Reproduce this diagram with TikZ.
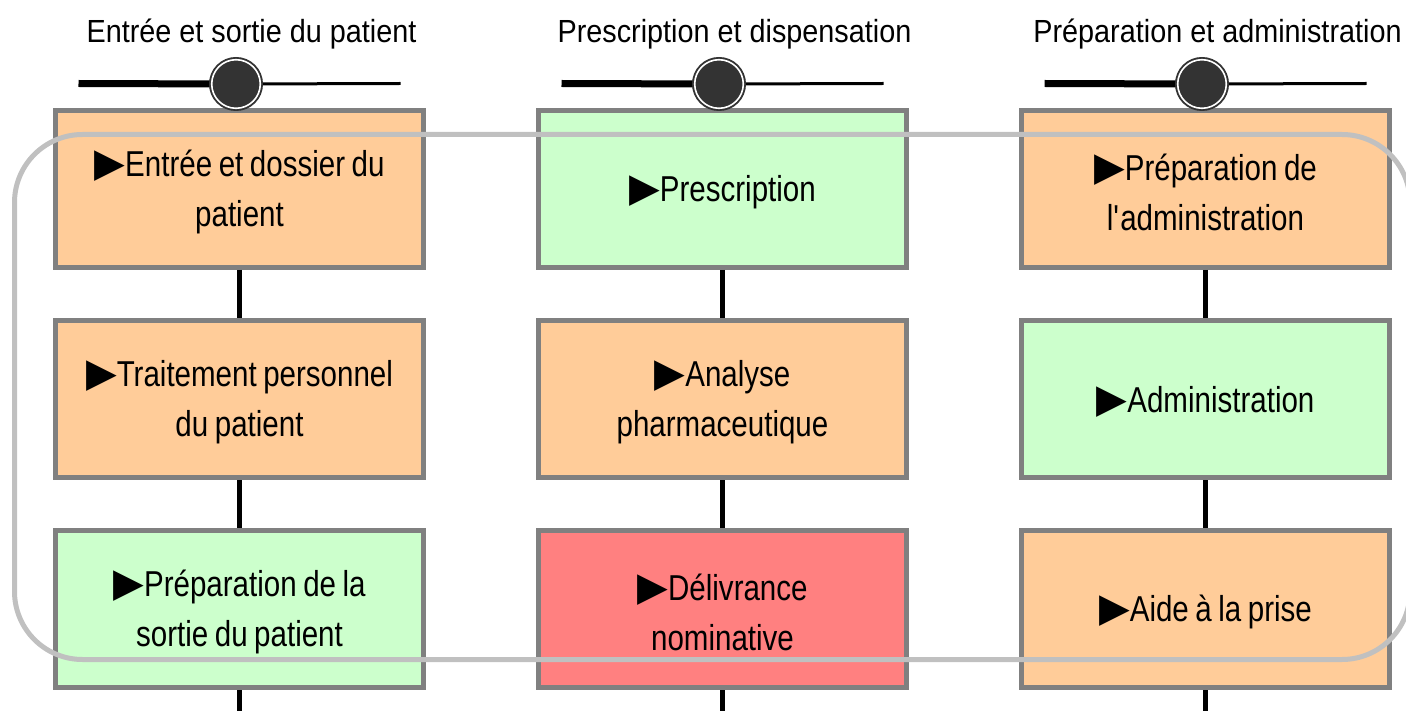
\documentclass[tikz,border=0pt]{standalone}
\usepackage{fontspec}
\setmainfont[FakeStretch=0.82,WordSpace=0.8]{Liberation Sans}
\newfontfamily\titlefont[FakeStretch=0.9]{Liberation Sans}
\newfontfamily\symfont{DejaVu Sans}
\newcommand\steptri{{\symfont\fontsize{40}{50}\selectfont ▶}}
\definecolor{stepborder}{HTML}{808080}
\definecolor{orangefill}{HTML}{FFCC99}
\definecolor{greenfill}{HTML}{CCFFCC}
\definecolor{redfill}{HTML}{FF8080}
\definecolor{groupline}{HTML}{C0C0C0}
\definecolor{knobfill}{HTML}{333333}
% a step box: style, name, position, caption
\newcommand\stepnode[4]{%
  \node[#1, label={[steptext]center:{\steptri #4}}] (#2) at #3 {};}
\begin{document}
\begin{tikzpicture}[x=1pt,y=-1pt,
  stepbox/.style={draw=stepborder, line width=5pt, minimum width=368pt,
    minimum height=157pt, inner sep=0pt},
  steptext/.style={text width=360pt, align=flush center, inner sep=0pt,
    font=\fontsize{36}{50}\selectfont, yshift=-3pt},
  orangebox/.style={stepbox, fill=orangefill},
  greenbox/.style={stepbox, fill=greenfill},
  redbox/.style={stepbox, fill=redfill},
  link/.style={line width=5pt, black},
  phasetitle/.style={font=\titlefont\fontsize{32}{40}\selectfont, inner sep=0pt},
  trackthick/.style={line width=7pt, black},
  trackthin/.style={line width=3pt, black},
  knob/.style={circle, fill=knobfill, draw=knobfill, line width=1pt,
    minimum size=53pt, inner sep=0pt},
  knobring/.style={draw=white, line width=1.6pt},
  grouping/.style={draw=groupline, line width=5pt, rounded corners=68pt,
    minimum width=1395.5pt, minimum height=525pt, inner sep=0pt}
]
\useasboundingbox (0,0) rectangle (1406,711);

% column 1: patient admission and discharge
\stepnode{orangebox}{a1}{(239.5,189)}{Entrée et dossier du\\patient}
\stepnode{orangebox}{a2}{(239.5,399)}{Traitement personnel\\du patient}
\stepnode{greenbox}{a3}{(239.5,609)}{Préparation de la\\sortie du patient}

% column 2: prescribing and dispensing
\stepnode{greenbox}{b1}{(722.5,189)}{Prescription}
\stepnode{orangebox}{b2}{(722.5,399)}{Analyse\\pharmaceutique}
\stepnode{redbox}{b3}{(722.5,609)}{Délivrance\\nominative}

% column 3: preparation and administration
\stepnode{orangebox}{c1}{(1205.5,189)}{Préparation de\\l\textquotesingle administration}
\stepnode{greenbox}{c2}{(1205.5,399)}{Administration}
\stepnode{orangebox}{c3}{(1205.5,609)}{Aide à la prise}

% phase headers with slider tracks
\foreach \col/\c/\txt in {a/239.5/Entrée et sortie du patient,
                          b/722.5/Prescription et dispensation,
                          c/1205.5/Préparation et administration}{
  \node[phasetitle] (\col t) at (\c+12,34) {\txt};
  \coordinate (\col s) at (\c-161,83.5);
  \coordinate (\col e) at (\c+161,83.5);
  \coordinate (\col k) at (\c-3.5,84);
  \coordinate (\col out) at (\c,715);
  \draw[link] (\col k) -- (\col 1.north);
  \draw[trackthick] (\col s) -- (\col k);
  \draw[trackthin] (\col k) -- (\col e);
  \node[knob] (\col knob) at (\col k) {};
  \draw[knobring] (\col knob.center) circle (24.3pt);
  \draw[link] (\col 1.south) -- (\col 2.north);
  \draw[link] (\col 2.south) -- (\col 3.north);
  \draw[link] (\col 3.south) -- (\col out);
}

% grouping frame across the three phases
\node[grouping] (group) at (712.25,397) {};
\end{tikzpicture}
\end{document}
